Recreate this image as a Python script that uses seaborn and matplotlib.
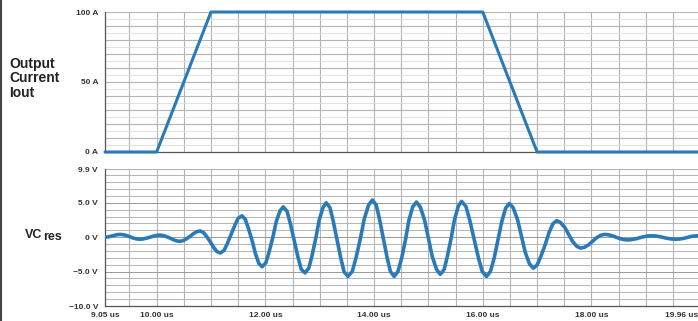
import matplotlib.pyplot as plt
import matplotlib.lines as mlines
import numpy as np
import seaborn as sb

# output current (A) vs time (us)
t_cur = [9.05, 10.00, 11.00, 16.00, 17.00, 19.96]
i_out = [0, 0, 100, 100, 0, 0]

# resonant capacitor voltage (V) vs time (us)
t_vc = [9.05, 9.10, 9.14, 9.19, 9.24, 9.28,
        9.33, 9.39, 9.45, 9.51, 9.57, 9.63,
        9.69, 9.75, 9.81, 9.88, 9.94, 10.00,
        10.06, 10.12, 10.18, 10.25, 10.31, 10.37,
        10.43, 10.49, 10.55, 10.62, 10.68, 10.74,
        10.80, 10.86, 10.92, 10.99, 11.05, 11.11,
        11.17, 11.24, 11.30, 11.37, 11.44, 11.50,
        11.57, 11.63, 11.69, 11.76, 11.82, 11.88,
        11.94, 12.01, 12.07, 12.14, 12.20, 12.27,
        12.33, 12.40, 12.46, 12.53, 12.60, 12.66,
        12.73, 12.80, 12.86, 12.93, 12.99, 13.06,
        13.12, 13.19, 13.25, 13.32, 13.39, 13.45,
        13.52, 13.60, 13.67, 13.75, 13.82, 13.90,
        13.97, 14.04, 14.10, 14.17, 14.24, 14.30,
        14.37, 14.44, 14.51, 14.58, 14.64, 14.71,
        14.78, 14.85, 14.93, 15.00, 15.07, 15.15,
        15.22, 15.29, 15.35, 15.42, 15.48, 15.55,
        15.61, 15.69, 15.76, 15.84, 15.92, 15.99,
        16.07, 16.14, 16.21, 16.28, 16.35, 16.42,
        16.49, 16.56, 16.64, 16.71, 16.78, 16.86,
        16.93, 17.00, 17.07, 17.15, 17.22, 17.29,
        17.36, 17.43, 17.51, 17.58, 17.65, 17.73,
        17.80, 17.87, 17.95, 18.02, 18.09, 18.17,
        18.24, 18.31, 18.38, 18.45, 18.52, 18.59,
        18.66, 18.73, 18.81, 18.88, 18.95, 19.03,
        19.10, 19.18, 19.25, 19.33, 19.40, 19.48,
        19.55, 19.62, 19.69, 19.76, 19.82, 19.89,
        19.96]
vc_res = [0.0, 0.03, 0.1, 0.2, 0.3, 0.37,
          0.4, 0.35, 0.23, 0.05, -0.13, -0.25,
          -0.3, -0.26, -0.15, 0.0, 0.15, 0.26,
          0.3, 0.24, 0.08, -0.15, -0.38, -0.54,
          -0.6, -0.5, -0.23, 0.15, 0.53, 0.8,
          0.9, 0.69, 0.1, -0.7, -1.5, -2.09,
          -2.3, -1.94, -0.95, 0.4, 1.75, 2.74,
          3.1, 2.6, 1.25, -0.6, -2.45, -3.8,
          -4.3, -3.72, -2.13, 0.05, 2.23, 3.82,
          4.4, 3.75, 1.98, -0.45, -2.88, -4.65,
          -5.2, -4.5, -2.65, -0.1, 2.45, 4.3,
          5.0, 4.28, 2.3, -0.4, -3.1, -5.05,
          -5.7, -4.97, -2.94, -0.15, 2.64, 4.67,
          5.4, 4.67, 2.64, -0.15, -2.94, -4.97,
          -5.7, -4.98, -3.0, -0.3, 2.4, 4.38,
          5.1, 4.4, 2.48, -0.15, -2.78, -4.7,
          -5.4, -4.69, -2.75, -0.1, 2.55, 4.49,
          5.2, 4.47, 2.48, -0.25, -2.98, -4.97,
          -5.7, -5.0, -3.05, -0.4, 2.25, 4.2,
          4.9, 4.27, 2.55, 0.2, -2.15, -3.88,
          -4.5, -4.04, -2.78, -1.05, 0.68, 1.94,
          2.4, 2.13, 1.4, 0.4, -0.6, -1.33,
          -1.6, -1.47, -1.1, -0.6, -0.1, 0.27,
          0.4, 0.35, 0.2, 0.0, -0.2, -0.35,
          -0.4, -0.36, -0.25, -0.1, 0.05, 0.16,
          0.2, 0.17, 0.08, -0.05, -0.18, -0.27,
          -0.3, -0.27, -0.18, -0.05, 0.08, 0.17,
          0.2]

x_ticks = [9.05, 10.0, 12.0, 14.0, 16.0, 18.0, 19.96]
x_labels = ["9.05 us", "10.00 us", "12.00 us", "14.00 us", "16.00 us", "18.00 us", "19.96 us"]
i_ticks = [0, 50, 100]
i_labels = ["0 A", "50 A", "100 A"]
v_ticks = [-10.0, -5.0, 0.0, 5.0, 9.9]
v_labels = ["\u221210.0 V", "\u22125.0 V", "0 V", "5.0 V", "9.9 V"]

sb.set_style("white")
plt.rcParams['font.family'] = ['Liberation Sans', 'DejaVu Sans']

blue = "#2a7ab8"
grid_c = "#b4b4b4"
txt_c = "#333333"

fig = plt.figure(figsize=(6.98, 3.21), dpi=100)
ax1 = fig.add_axes([0.1504, 0.5265, 0.8496, 0.4361])
ax2 = fig.add_axes([0.1504, 0.0467, 0.8496, 0.4268])

v_grid = np.arange(9.5, 19.96, 0.5)

for ax in (ax1, ax2):
    ax.set_xlim(9.05, 19.96)
    for xv in v_grid:
        ax.axvline(xv, color=grid_c, lw=0.8, zorder=0)
    for s in ("top", "right"):
        ax.spines[s].set_visible(False)
    ax.spines["left"].set_color("#555555")
    ax.spines["bottom"].set_color("#555555")
    ax.spines["left"].set_linewidth(0.9)
    ax.spines["bottom"].set_linewidth(0.9)
    ax.tick_params(axis="y", length=3, width=0.8, color="#555555", pad=2)

# top: output current
for yv in np.arange(10, 101, 10):
    ax1.axhline(yv, color=grid_c, lw=0.8, zorder=0)
for yv in np.arange(5, 100, 10):
    ax1.axhline(yv, color="#dedede", lw=0.6, zorder=0)
sb.lineplot(x=t_cur, y=i_out, ax=ax1, color=blue, linewidth=2.2,
            estimator=None, sort=False, clip_on=False, zorder=3)
ax1.set_ylim(0, 100)
ax1.set_xticks([])
ax1.set_yticks(i_ticks)
ax1.set_yticklabels(i_labels, fontsize=6, fontweight="bold", color=txt_c)

# bottom: VCres
for yv in np.arange(-9, 10, 1):
    ax2.axhline(yv, color=grid_c if yv % 5 else "#999999", lw=0.7, zorder=0)
ax2.axhline(9.9, color=grid_c, lw=0.8, zorder=0)
sb.lineplot(x=t_vc, y=vc_res, ax=ax2, color=blue, linewidth=2.6,
            estimator=None, sort=False, zorder=3)
ax2.set_ylim(-10.0, 9.9)
ax2.set_yticks(v_ticks)
ax2.set_yticklabels(v_labels, fontsize=6, fontweight="bold", color=txt_c)
ax2.set_xticks(x_ticks)
ax2.set_xticklabels(x_labels, fontsize=6, fontweight="bold", color=txt_c)
ax2.get_xticklabels()[-1].set_horizontalalignment("right")
ax2.tick_params(axis="x", length=3, width=0.8, color="#555555", pad=1.5)
for ln in ax1.get_lines() + ax2.get_lines():
    ln.set_solid_joinstyle("round")
    ln.set_solid_capstyle("round")

for ax in (ax1, ax2):
    ax.set_xlabel("")
    ax.set_ylabel("")

# side labels
fig.text(0.013, 0.756, "Output\nCurrent\nIout", fontsize=10, fontweight="bold",
         color="#222222", ha="left", va="center", linespacing=1.05)
fig.text(0.035, 0.259, "VC", fontsize=9, fontweight="bold", color="#222222",
         ha="left", va="baseline")
fig.text(0.062, 0.253, "res", fontsize=9, fontweight="bold", color="#222222",
         ha="left", va="baseline")

# dark border at the left edge of the screenshot
fig.add_artist(mlines.Line2D([0.0015, 0.0015], [0, 1], color="#444444", lw=1.5,
                             transform=fig.transFigure))

fig.savefig("out.png", dpi=100)
